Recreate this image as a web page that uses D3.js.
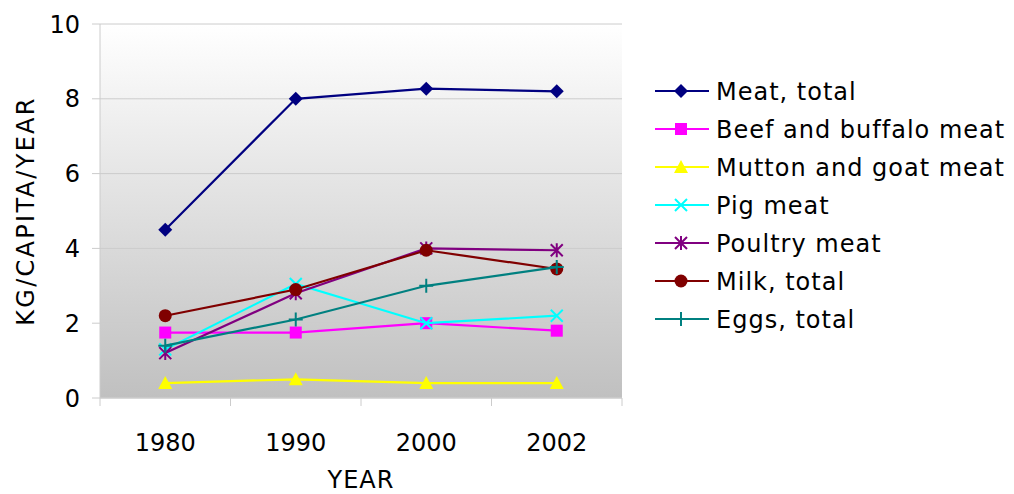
<!DOCTYPE html>
<html>
<head>
<meta charset="utf-8">
<script src="https://cdn.jsdelivr.net/npm/d3@7"></script>
<style>
body { margin: 0; background: #fff; }
text { font-family: "DejaVu Sans", Verdana, sans-serif; fill: #000; }
</style>
</head>
<body>
<script>
const years = ["1980", "1990", "2000", "2002"];
const seriesNames = ["Meat, total", "Beef and buffalo meat", "Mutton and goat meat", "Pig meat", "Poultry meat", "Milk, total", "Eggs, total"];
const meatTotal = [4.5, 8.0, 8.27, 8.2];
const beefBuffalo = [1.75, 1.75, 2.0, 1.8];
const muttonGoat = [0.4, 0.5, 0.4, 0.4];
const pigMeat = [1.3, 3.05, 2.0, 2.2];
const poultryMeat = [1.2, 2.8, 4.0, 3.95];
const milkTotal = [2.2, 2.9, 3.95, 3.45];
const eggsTotal = [1.4, 2.1, 3.0, 3.5];
const yTicks = [0, 2, 4, 6, 8, 10];

const colors = ["#000080", "#ff00ff", "#ffff00", "#00ffff", "#800080", "#800000", "#008080"];
const markers = ["diamond", "square", "triangle", "x", "star", "circle", "plus"];
const allValues = [meatTotal, beefBuffalo, muttonGoat, pigMeat, poultryMeat, milkTotal, eggsTotal];

const width = 1014, height = 494;
const plotLeft = 100, plotRight = 622, plotTop = 24, plotBottom = 398;

const svg = d3.select("body").append("svg")
    .attr("width", width)
    .attr("height", height);

const defs = svg.append("defs");
const grad = defs.append("linearGradient")
    .attr("id", "bg")
    .attr("x1", 0).attr("y1", 0).attr("x2", 0).attr("y2", 1);
grad.append("stop").attr("offset", "0%").attr("stop-color", "#ffffff");
grad.append("stop").attr("offset", "100%").attr("stop-color", "#c0c0c0");

const x = d3.scaleBand().domain(years).range([plotLeft, plotRight]);
const y = d3.scaleLinear().domain([0, 10]).range([plotBottom, plotTop]);

svg.append("rect")
    .attr("x", plotLeft).attr("y", plotTop)
    .attr("width", plotRight - plotLeft).attr("height", plotBottom - plotTop)
    .attr("fill", "url(#bg)");

// gridlines
svg.selectAll("line.grid")
    .data(yTicks)
    .enter().append("line")
    .attr("class", "grid")
    .attr("x1", plotLeft - 8).attr("x2", plotRight)
    .attr("y1", d => y(d)).attr("y2", d => y(d))
    .attr("stroke", "#cccccc")
    .attr("stroke-width", 1);

// y axis
svg.append("line")
    .attr("x1", plotLeft).attr("x2", plotLeft)
    .attr("y1", plotTop).attr("y2", plotBottom)
    .attr("stroke", "#cccccc");

svg.selectAll("text.ytick")
    .data(yTicks)
    .enter().append("text")
    .attr("class", "ytick")
    .attr("x", plotLeft - 20)
    .attr("y", d => y(d))
    .attr("dy", "0.36em")
    .attr("text-anchor", "end")
    .style("font-size", "24px")
    .text(d => d);

// x axis
svg.append("line")
    .attr("x1", plotLeft).attr("x2", plotRight)
    .attr("y1", plotBottom).attr("y2", plotBottom)
    .attr("stroke", "#cccccc");

const xTickPos = years.map(d => x(d)).concat([plotRight]);
svg.selectAll("line.xtick")
    .data(xTickPos)
    .enter().append("line")
    .attr("x1", d => d).attr("x2", d => d)
    .attr("y1", plotBottom).attr("y2", plotBottom + 8)
    .attr("stroke", "#cccccc");

svg.selectAll("text.xlab")
    .data(years)
    .enter().append("text")
    .attr("class", "xlab")
    .attr("x", d => x(d) + x.bandwidth() / 2)
    .attr("y", 451)
    .attr("text-anchor", "middle")
    .style("font-size", "24px")
    .text(d => d);

svg.append("text")
    .attr("x", (plotLeft + plotRight) / 2)
    .attr("y", 488)
    .attr("text-anchor", "middle")
    .style("font-size", "24px")
    .style("letter-spacing", "1px")
    .text("YEAR");

svg.append("text")
    .attr("transform", `translate(34, ${(plotTop + plotBottom) / 2}) rotate(-90)`)
    .attr("text-anchor", "middle")
    .style("font-size", "24px")
    .style("letter-spacing", "2.3px")
    .text("KG/CAPITA/YEAR");

function drawMarker(g, type, color, cx, cy) {
    if (type === "diamond") {
        g.append("path")
            .attr("d", `M${cx},${cy - 7}L${cx + 7},${cy}L${cx},${cy + 7}L${cx - 7},${cy}Z`)
            .attr("fill", color);
    } else if (type === "square") {
        g.append("rect")
            .attr("x", cx - 6).attr("y", cy - 6)
            .attr("width", 12).attr("height", 12)
            .attr("fill", color);
    } else if (type === "triangle") {
        g.append("path")
            .attr("d", `M${cx},${cy - 7}L${cx + 7},${cy + 6}L${cx - 7},${cy + 6}Z`)
            .attr("fill", color);
    } else if (type === "x") {
        g.append("path")
            .attr("d", `M${cx - 6},${cy - 6}L${cx + 6},${cy + 6}M${cx + 6},${cy - 6}L${cx - 6},${cy + 6}`)
            .attr("stroke", color).attr("stroke-width", 2);
    } else if (type === "star") {
        g.append("path")
            .attr("d", `M${cx - 6},${cy - 6}L${cx + 6},${cy + 6}M${cx + 6},${cy - 6}L${cx - 6},${cy + 6}M${cx},${cy - 7}L${cx},${cy + 7}`)
            .attr("stroke", color).attr("stroke-width", 2);
    } else if (type === "circle") {
        g.append("circle")
            .attr("cx", cx).attr("cy", cy).attr("r", 6.5)
            .attr("fill", color);
    } else if (type === "plus") {
        g.append("path")
            .attr("d", `M${cx - 7},${cy}L${cx + 7},${cy}M${cx},${cy - 7}L${cx},${cy + 7}`)
            .attr("stroke", color).attr("stroke-width", 2);
    }
}

const line = d3.line()
    .x((d, i) => x(years[i]) + x.bandwidth() / 2)
    .y(d => y(d));

allValues.forEach((vals, s) => {
    const g = svg.append("g");
    g.append("path")
        .attr("d", line(vals))
        .attr("fill", "none")
        .attr("stroke", colors[s])
        .attr("stroke-width", 2.2);
    vals.forEach((v, i) => {
        drawMarker(g, markers[s], colors[s], x(years[i]) + x.bandwidth() / 2, y(v));
    });
});

// legend
const legend = svg.append("g");
seriesNames.forEach((name, s) => {
    const ly = 91 + s * 38;
    legend.append("line")
        .attr("x1", 655).attr("x2", 709)
        .attr("y1", ly).attr("y2", ly)
        .attr("stroke", colors[s]).attr("stroke-width", 2);
    drawMarker(legend, markers[s], colors[s], 681, ly);
    legend.append("text")
        .attr("x", 716).attr("y", ly)
        .attr("dy", "0.36em")
        .style("font-size", "24px")
        .style("letter-spacing", "1px")
        .text(name);
});
</script>
</body>
</html>
